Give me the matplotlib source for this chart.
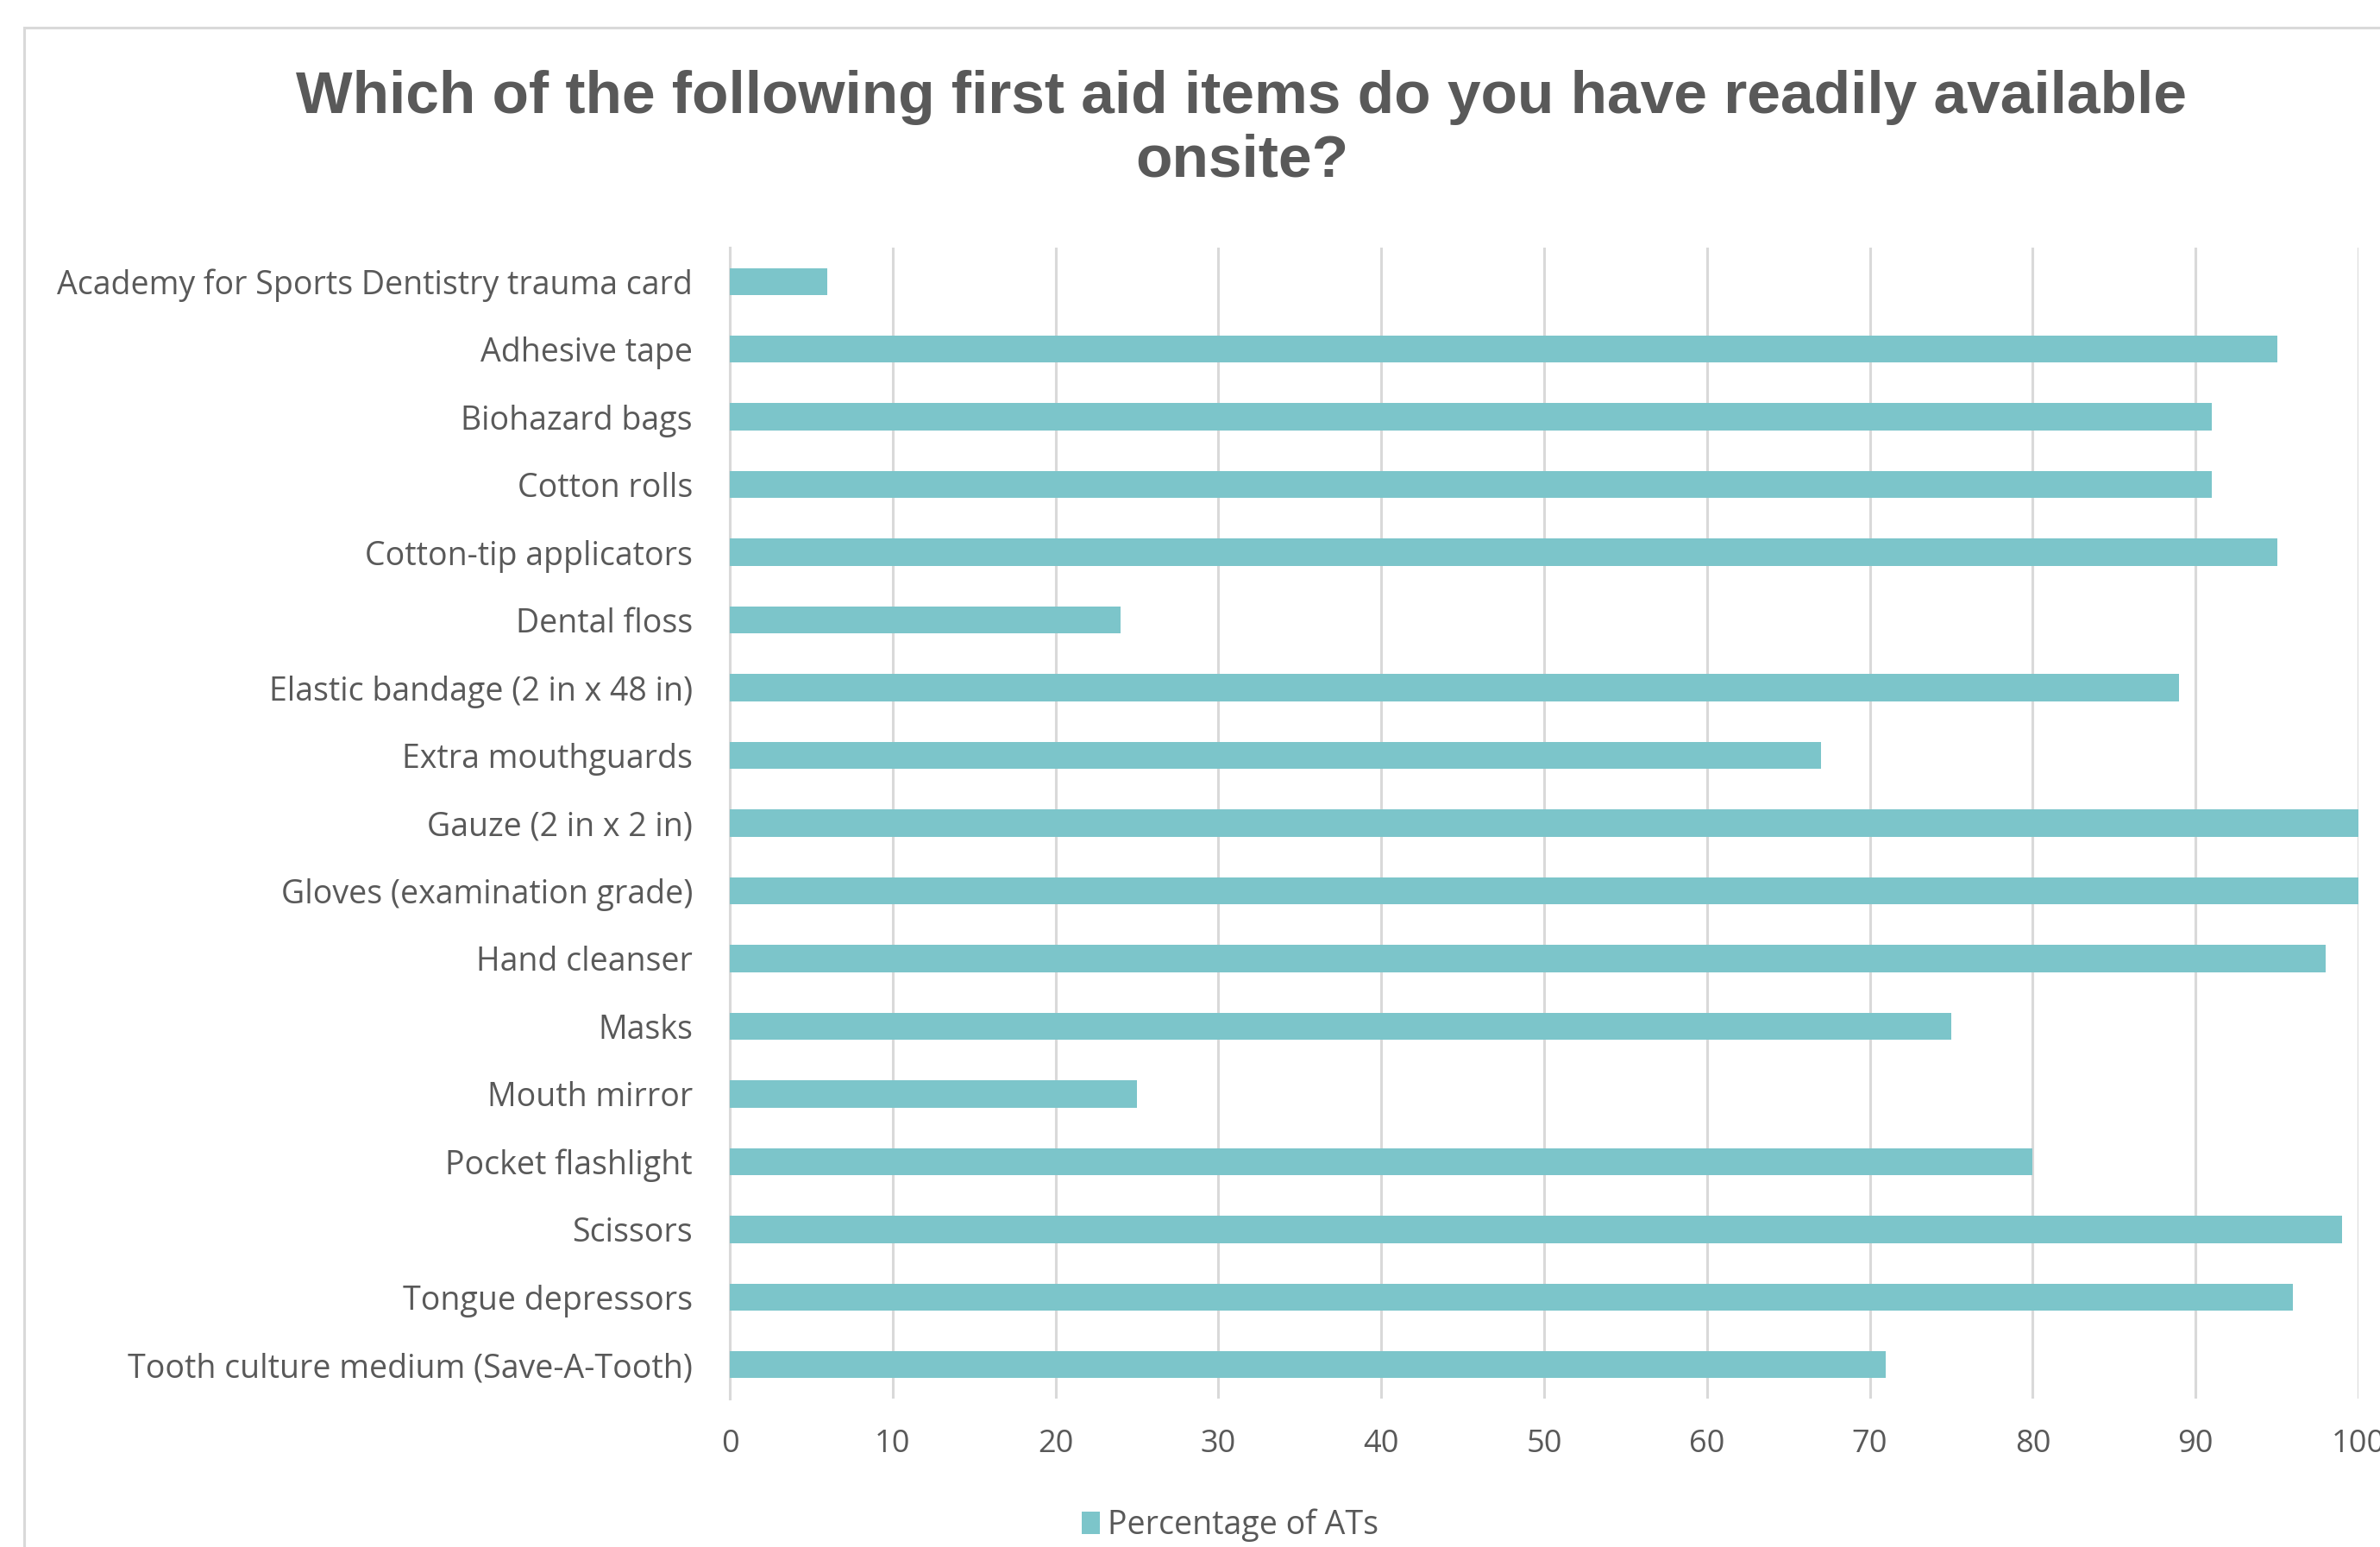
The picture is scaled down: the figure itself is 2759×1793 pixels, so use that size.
import matplotlib
matplotlib.use("Agg")
import matplotlib.pyplot as plt
from matplotlib.patches import Rectangle, Patch

categories = [
    "Academy for Sports Dentistry trauma card",
    "Adhesive tape",
    "Biohazard bags",
    "Cotton rolls",
    "Cotton-tip applicators",
    "Dental floss",
    "Elastic bandage (2 in x 48 in)",
    "Extra mouthguards",
    "Gauze (2 in x 2 in)",
    "Gloves (examination grade)",
    "Hand cleanser",
    "Masks",
    "Mouth mirror",
    "Pocket flashlight",
    "Scissors",
    "Tongue depressors",
    "Tooth culture medium (Save-A-Tooth)",
]
values = [6, 95, 91, 91, 95, 24, 89, 67, 100, 100, 98, 75, 25, 80, 99, 96, 71]
xticks = [0, 10, 20, 30, 40, 50, 60, 70, 80, 90, 100]
series_name = "Percentage of ATs"
title = "Which of the following first aid items do you have readily available\nonsite?"

W, H = 2759, 1793
DPI = 100
fig = plt.figure(figsize=(W / DPI, H / DPI), dpi=DPI)
fig.patch.set_facecolor("white")

text_color = "#595959"
grid_color = "#d9d9d9"
bar_color = "#7cc5ca"
label_font = ["Open Sans", "DejaVu Sans"]

# outer chart frame (cropped at right and bottom)
frame = Rectangle((16 / 1568, -0.05), 1.2, 0.05 + (1 - 18 / 1019),
                  transform=fig.transFigure, fill=False,
                  edgecolor=grid_color, linewidth=2.2, clip_on=False)
fig.patches.append(frame)

ax = fig.add_axes([846 / W, 1 - 1621 / H, (2734 - 846) / W, (1621 - 287) / H])
y = list(range(len(categories)))
ax.barh(y, values, height=0.4, color=bar_color, zorder=3)
ax.set_ylim(len(categories) - 0.5, -0.5)
ax.set_xlim(0, 100)
ax.set_xticks(xticks)
ax.set_xticklabels([str(t) for t in xticks], fontsize=26, color=text_color,
                   family=label_font)
ax.set_yticks(y)
ax.set_yticklabels(categories, fontsize=27, color=text_color, family=label_font)
ax.tick_params(axis="both", length=0)
ax.tick_params(axis="y", pad=31)
ax.tick_params(axis="x", pad=25)
ax.grid(axis="x", color=grid_color, linewidth=2.2, zorder=0)
ax.grid(axis="y", visible=False)
for s in ["top", "right", "bottom"]:
    ax.spines[s].set_visible(False)
ax.spines["left"].set_color(grid_color)
ax.spines["left"].set_linewidth(2.2)

fig.text(0.5217, 0.9165, title, ha="center", va="center", fontsize=50,
         fontweight="bold", color=text_color, family=["Liberation Sans", "DejaVu Sans"],
         linespacing=1.2)

leg = fig.legend(handles=[Patch(facecolor=bar_color, edgecolor="none", label=series_name)],
                 loc="center", bbox_to_anchor=(0.517, 0.014), frameon=False,
                 prop={"family": label_font, "size": 27},
                 handlelength=0.55, handleheight=0.7, handletextpad=0.25)
for t in leg.get_texts():
    t.set_color(text_color)

fig.savefig("out.png", dpi=DPI, facecolor="white")
